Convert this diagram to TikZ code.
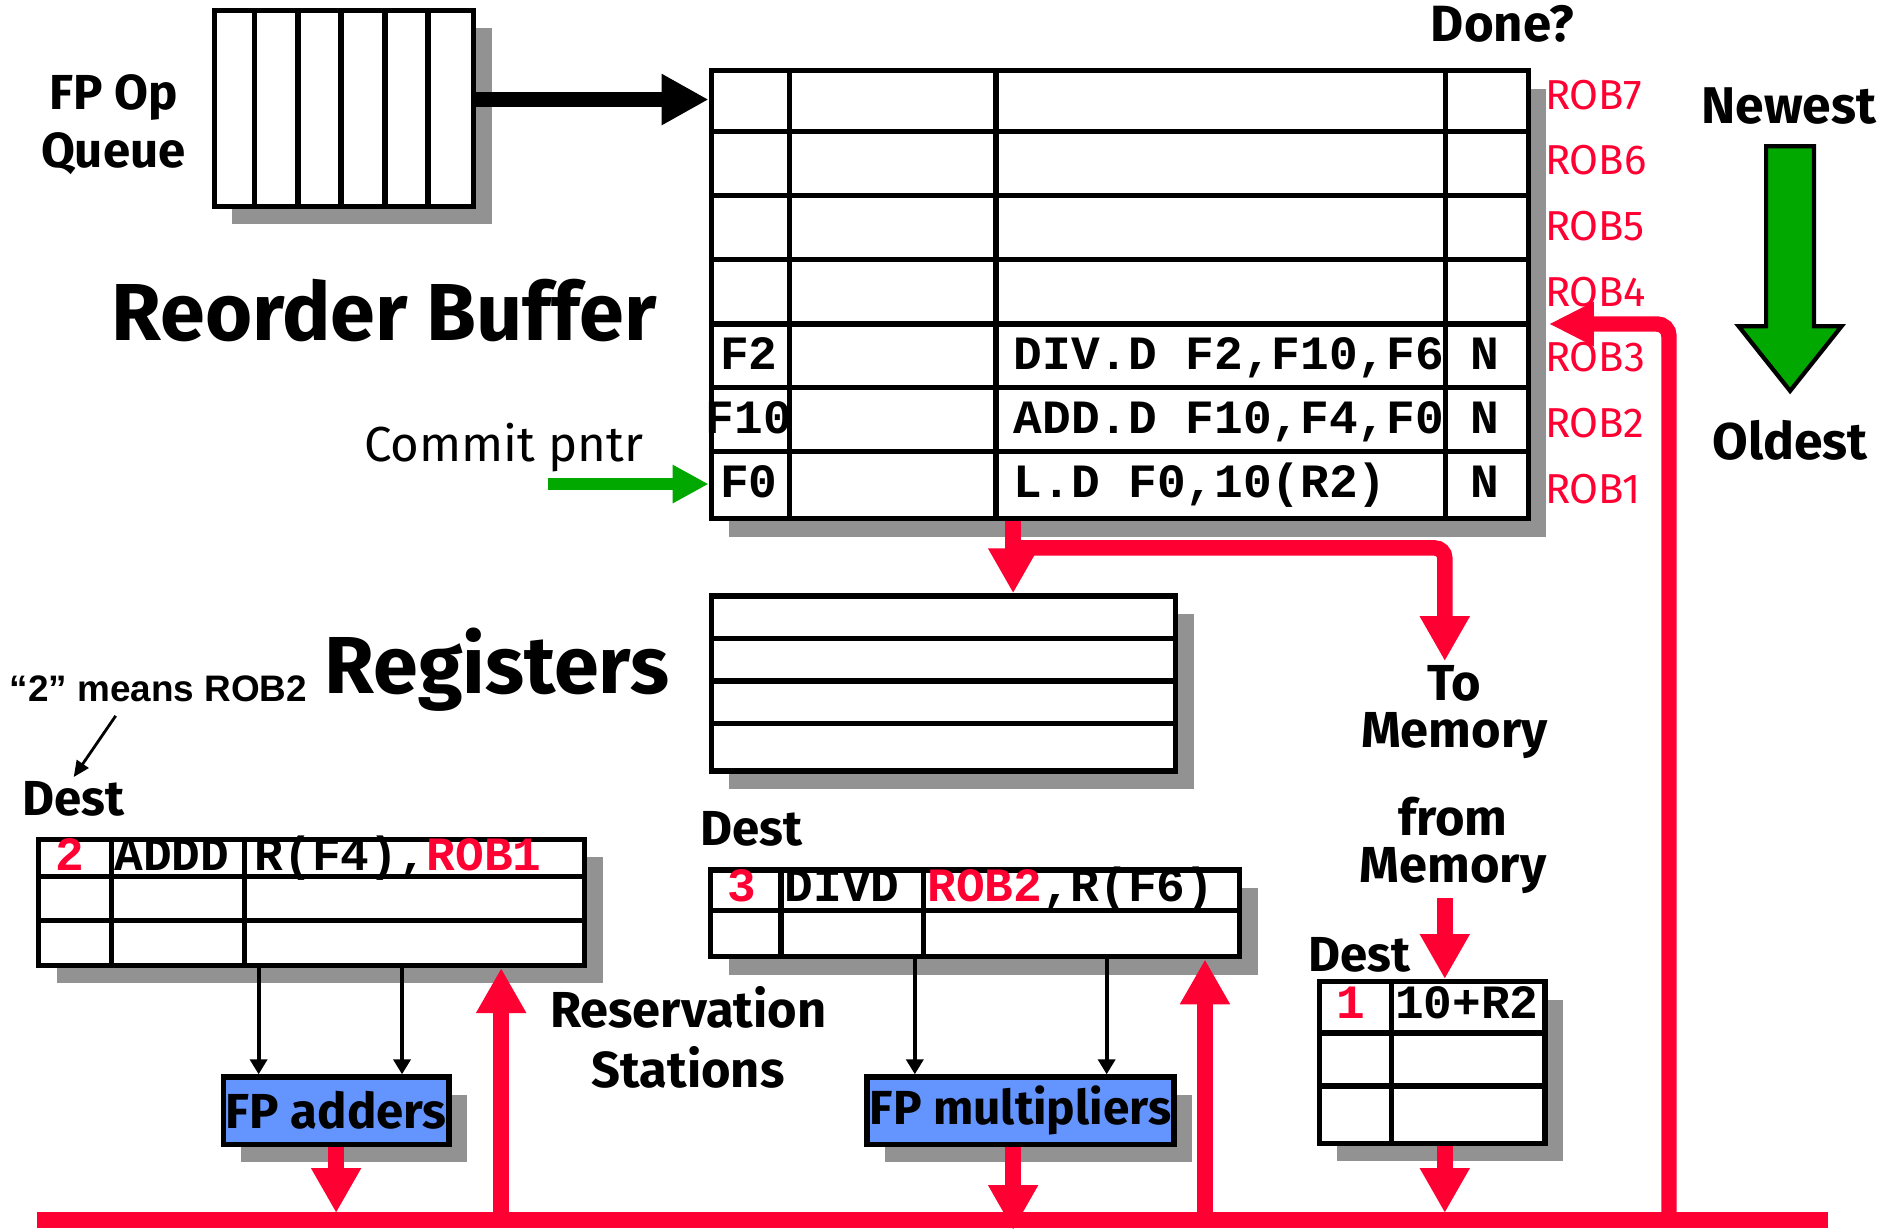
\documentclass[tikz,border=0pt]{standalone}
\usepackage{fontspec}
\usepackage{xcolor}
\usepackage{tikz}
\usetikzlibrary{positioning, arrows.meta, shadows}
\setmainfont{Fira Sans}
\newfontfamily\monofont{Liberation Mono}
\newfontfamily\notefont{Liberation Sans}
\definecolor{robred}{HTML}{FF0033}
\definecolor{agegreen}{HTML}{00A800}
\definecolor{fublue}{HTML}{6495FF}
\definecolor{shadowgray}{HTML}{929292}

\begin{document}
\begin{tikzpicture}[x=0.01199cm, y=-0.01199cm,
    tbl/.style={draw, line width=1.5pt, fill=white, anchor=north west, inner sep=0pt,
      drop shadow={shadow xshift=0.18cm, shadow yshift=-0.18cm, fill=shadowgray, opacity=1}},
    rowline/.style={line width=1.5pt},
    cell/.style={font=\monofont\bfseries\fontsize{13.6}{16}\selectfont, inner sep=0pt},
    hand/.style 2 args={font=\bfseries\fontsize{#1}{#2}\selectfont, inner sep=1pt, align=center},
    roblbl/.style={font=\fontsize{11.9}{14}\selectfont, text=robred, inner sep=0pt},
    redline/.style={robred, line width=4.4pt},
    redtip/.style={-{Triangle[width=0.47cm, length=0.45cm]}},
    feed/.style={line width=1.2pt, -{Triangle[width=0.17cm, length=0.15cm]}}]
  \useasboundingbox (0,0) rectangle (1568,1027);

  % op queue
  \node[tbl, minimum width=2.596cm, minimum height=1.960cm] (queue) at (176.5,6.5) {};
  \draw[rowline] (212,6.5) -- (212,170);
  \draw[rowline] (248.5,6.5) -- (248.5,170);
  \draw[rowline] (284.5,6.5) -- (284.5,170);
  \draw[rowline] (321,6.5) -- (321,170);
  \draw[rowline] (357,6.5) -- (357,170);
  \node[hand={14}{16.6}] (fpq) at (94.5,104) {FP Op\\Queue};

  % reorder buffer
  \node[tbl, minimum width=8.171cm, minimum height=4.482cm] (rob) at (591,56.6) {};
  \node[cell, anchor=base] (d3) at (624.5,308) {F2};
  \node[cell, anchor=base west] (op3) at (845,308) {DIV.D F2,F10,F6};
  \node[cell, anchor=base] (dn3) at (1238.5,308) {N};
  \node[cell, anchor=base] (d2) at (624.5,361.4) {F10};
  \node[cell, anchor=base west] (op2) at (845,361.4) {ADD.D F10,F4,F0};
  \node[cell, anchor=base] (dn2) at (1238.5,361.4) {N};
  \node[cell, anchor=base] (d1) at (624.5,414.8) {F0};
  \node[cell, anchor=base west] (op1) at (845,414.8) {L.D F0,10(R2)};
  \node[cell, anchor=base] (dn1) at (1238.5,414.8) {N};
  \foreach \y in {109.6,163,216.5,270.2,323.2,376.8}
    \draw[rowline] (591,\y) -- (1272.5,\y);
  \foreach \x in {658.4,830.7,1205.4}
    \draw[rowline] (\x,56.6) -- (\x,430.4);
  \foreach \i in {1,...,7}
    \node[roblbl, anchor=base west] (rl\i) at (1288,{91+(7-\i)*54.8}) {ROB\i};
  \node[hand={23}{27}, anchor=base] (robtitle) at (320.5,284) {Reorder Buffer};
  \node[hand={14.5}{17}, anchor=base] (done) at (1253,35) {Done?};

  \coordinate (qy) at (0,83);
  \draw[line width=4.3pt, -{Triangle[width=0.48cm, length=0.47cm]}] (queue.east |- qy) -- (rob.west |- qy);

  % commit pointer
  \node[font=\fontsize{14}{17}\selectfont, anchor=base west, inner sep=0pt] (commit) at (303,385) {Commit pntr};
  \coordinate (cp) at (457,403.7);
  \draw[agegreen, line width=3.4pt, -{Triangle[width=0.36cm, length=0.36cm]}] (cp) -- (cp -| rob.west);

  % newest / oldest
  \node[hand={14.7}{17}, anchor=base] (newest) at (1492,103) {Newest};
  \node[hand={14.7}{17}, anchor=base] (oldest) at (1493,383) {Oldest};
  \draw[line width=1.2pt, fill=agegreen] (1473,122) -- (1513,122) -- (1513,272) -- (1536,272)
    -- (1493,326) -- (1450,272) -- (1473,272) -- cycle;

  % registers
  \node[tbl, minimum width=4.646cm, minimum height=1.751cm] (regs) at (591,494.8) {};
  \foreach \y in {532.4,568,603.3}
    \draw[rowline] (591,\y) -- (978.5,\y);
  \node[hand={23}{27}, anchor=base] (regtitle) at (414.5,578) {Registers};
  \node[hand={14.4}{13.5}] (tomem) at (1213,594) {To\\Memory};

  % adder reservation stations
  \node[font=\notefont\bfseries\fontsize{10.5}{12}\selectfont, anchor=base, inner sep=0pt] (note) at (132,585) {“2” means ROB2};
  \node[hand={14}{16}, anchor=base] (dest1) at (61.5,680) {Dest};
  \coordinate (nt) at (96.5,597);
  \draw[line width=0.8pt, -{Triangle[width=0.14cm, length=0.16cm]}] (nt) -- (dest1.north);
  \node[tbl, minimum width=5.461cm, minimum height=1.261cm] (addrs) at (30,697.8) {};
  \node[cell, anchor=base, text=robred] (a2) at (58,725.6) {2};
  \node[cell, anchor=base west] (aop) at (95,725.6) {ADDD};
  \node[cell, anchor=base west] (asrc) at (212,725.6) {R(F4),\textcolor{robred}{ROB1}};
  \foreach \y in {731,768}
    \draw[rowline] (30,\y) -- (485.5,\y);
  \draw[rowline] (93,697.8) -- (93,803);
  \draw[rowline] (204,697.8) -- (204,803);

  % multiplier reservation stations
  \node[hand={14}{16}, anchor=base] (dest2) at (627,705) {Dest};
  \node[tbl, minimum width=5.290cm, minimum height=0.867cm] (mulrs) at (590.5,723.4) {};
  \node[cell, anchor=base, text=robred] (m3) at (618.5,752) {3};
  \node[cell, anchor=base west] (mop) at (654,752) {DIVD};
  \node[cell, anchor=base west] (msrc) at (773,752) {\textcolor{robred}{ROB2},R(F6)};
  \draw[rowline] (590.5,759.5) -- (1031.7,759.5);
  \draw[rowline] (651.4,723.4) -- (651.4,795.7);
  \draw[rowline] (770.2,723.4) -- (770.2,795.7);
  \node[hand={14.4}{17}] (rsname) at (574,865.5) {Reservation\\Stations};

  % load buffer
  \node[hand={14.4}{13.5}] (frommem) at (1212,705) {from\\Memory};
  \node[hand={14}{16}, anchor=base] (dest3) at (1133.5,810) {Dest};
  \node[tbl, minimum width=2.260cm, minimum height=1.619cm] (ldbuf) at (1098,816.5) {};
  \node[cell, anchor=base, text=robred] (l1) at (1126.5,849.3) {1};
  \node[cell, anchor=base west] (laddr) at (1163,849.3) {10+R2};
  \draw[rowline] (1098,861.6) -- (1286.5,861.6);
  \draw[rowline] (1098,905.8) -- (1286.5,905.8);
  \draw[rowline] (1160.7,816.5) -- (1160.7,951.4);

  % functional units
  \node[tbl, fill=fublue, minimum width=2.258cm, minimum height=0.674cm, hand={14}{16}, inner sep=0pt] (fpadd) at (184,896) {FP adders};
  \node[tbl, fill=fublue, minimum width=3.069cm, minimum height=0.674cm, hand={13.6}{16}, inner sep=0pt] (fpmul) at (721,896) {FP multipliers};
  \coordinate (xa1) at (215.7,0);
  \coordinate (xa2) at (335.3,0);
  \coordinate (xm1) at (763,0);
  \coordinate (xm2) at (923,0);
  \draw[feed] (addrs.south -| xa1) -- (fpadd.north -| xa1);
  \draw[feed] (addrs.south -| xa2) -- (fpadd.north -| xa2);
  \draw[feed] (mulrs.south -| xm1) -- (fpmul.north -| xm1);
  \draw[feed] (mulrs.south -| xm2) -- (fpmul.north -| xm2);

  % red paths
  \coordinate (tap) at (845,457);
  \coordinate (xmem) at (1205,0);
  \draw[redline, redtip] (rob.south -| tap) -- (regs.north -| tap);
  \draw[redline, redtip, rounded corners=0.1cm] (tap) -| (tomem.north -| xmem);

  \coordinate (busL) at (31,1017.5);
  \coordinate (busR) at (1525,1017.5);
  \draw[redline] (busL) -- (busR);
  \coordinate (xup1) at (418,0);
  \coordinate (xup2) at (1005,0);
  \coordinate (xret) at (1392,0);
  \coordinate (r34) at (0,270.2);
  \draw[redline, redtip] (busL -| xup1) -- (addrs.south -| xup1);
  \draw[redline, redtip] (busL -| xup2) -- (mulrs.south -| xup2);
  \draw[redline, redtip, shorten >=0.07cm] (fpadd.south) -- (fpadd.south |- busL);
  \draw[redline, redtip, shorten >=-0.1cm] (fpmul.south -| tap) -- (busL -| tap);
  \draw[redline, redtip, shorten >=0.07cm] (ldbuf.south -| xmem) -- (busL -| xmem);
  \draw[redline, redtip] (frommem.south -| xmem) -- (ldbuf.north -| xmem);
  \draw[redline, -{Triangle[width=0.41cm, length=0.45cm]}, rounded corners=0.12cm, shorten >=0.18cm]
    (busL -| xret) -- (r34 -| xret) -- (r34 -| rob.east);
\end{tikzpicture}
\end{document}
